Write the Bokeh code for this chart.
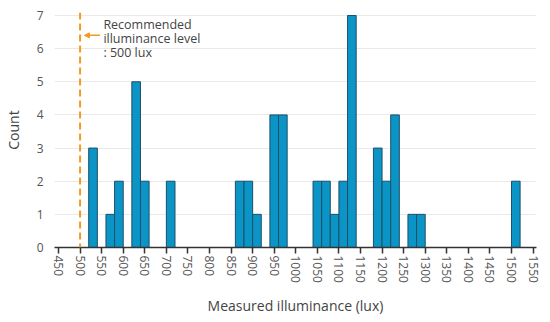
import math
from bokeh.plotting import figure
from bokeh.models import Span, Arrow, NormalHead, FixedTicker, Range1d, ColumnDataSource, Label
from bokeh.embed import file_html
from bokeh.resources import INLINE

# Histogram data (bin width 20 lux)
bin_left = [520, 560, 580, 620, 640, 700, 860, 880, 900, 940, 960,
            1040, 1060, 1080, 1100, 1120, 1180, 1200, 1220, 1260, 1280, 1500]
counts = [3, 1, 2, 5, 2, 2, 2, 2, 1, 4, 4,
          2, 2, 1, 2, 7, 3, 2, 4, 1, 1, 2]
bin_width = 20
x_ticks = list(range(450, 1551, 50))
y_ticks = [0, 1, 2, 3, 4, 5, 6, 7]
recommended = 500
annotation = "Recommended\nilluminance level\n: 500 lux"
x_title = "Measured illuminance (lux)"
y_title = "Count"

FONT = "Open Sans"

p = figure(width=550, height=322, output_backend="svg", toolbar_location=None,
           x_range=Range1d(440.7, 1558), y_range=Range1d(0, 7.09),
           min_border_left=53, min_border_right=14, min_border_top=12, min_border_bottom=75)
p.outline_line_color = None

src = ColumnDataSource(dict(left=bin_left, right=[b + bin_width for b in bin_left],
                            top=counts, bottom=[0] * len(counts)))
p.quad(left="left", right="right", top="top", bottom="bottom", source=src,
       fill_color="#0a95c6", line_color="#1d4f68", line_width=1)

p.add_layout(Span(location=recommended, dimension="height", line_color="#f39a21",
                  line_width=2, line_dash="7 4"))
p.add_layout(Arrow(end=NormalHead(size=5, fill_color="#f39a21", line_color="#f39a21"),
                   x_start=546, x_end=510, y_start=6.4, y_end=6.4,
                   line_color="#f39a21", line_width=1.5))
p.add_layout(Label(x=554, y=6.97, text=annotation, text_font=FONT, text_font_size="12.5px",
                   text_color="#444444", text_baseline="top", text_line_height=0.82))

p.xgrid.visible = False
p.ygrid.grid_line_color = "#e9e9e9"
p.ygrid.grid_line_width = 1

xa = p.xaxis[0]
xa.ticker = FixedTicker(ticks=x_ticks)
xa.major_label_orientation = -math.pi / 2
xa.axis_line_color = "#333333"
xa.axis_line_width = 1.5
xa.major_tick_line_color = "#333333"
xa.major_tick_line_width = 1.5
xa.major_tick_out = 6
xa.major_tick_in = 0
xa.minor_tick_line_color = None
xa.major_label_standoff = 2
xa.major_label_text_font = FONT
xa.major_label_text_font_size = "12px"
xa.major_label_text_color = "#555555"
xa.axis_label = x_title
xa.axis_label_text_font = FONT
xa.axis_label_text_font_size = "14px"
xa.axis_label_text_font_style = "normal"
xa.axis_label_text_color = "#444444"
xa.axis_label_standoff = 10

ya = p.yaxis[0]
ya.ticker = FixedTicker(ticks=y_ticks)
ya.axis_line_color = None
ya.major_tick_line_color = None
ya.minor_tick_line_color = None
ya.major_label_standoff = 5
ya.major_label_text_font = FONT
ya.major_label_text_font_size = "12px"
ya.major_label_text_color = "#555555"
ya.axis_label = y_title
ya.axis_label_text_font = FONT
ya.axis_label_text_font_size = "14px"
ya.axis_label_text_font_style = "normal"
ya.axis_label_text_color = "#444444"
ya.axis_label_standoff = 11

open("out.html", "w").write(file_html(p, INLINE))
